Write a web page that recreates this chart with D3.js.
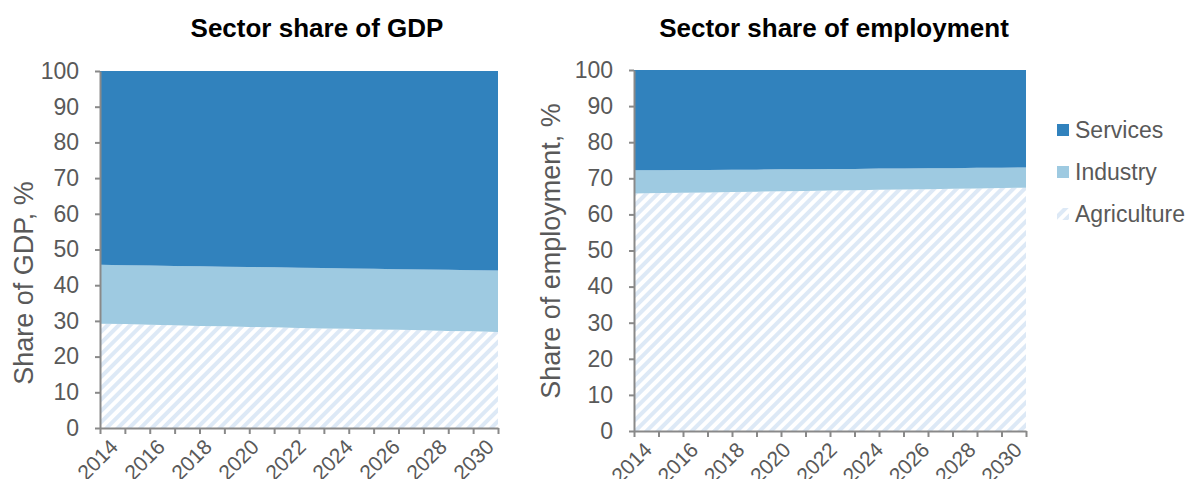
<!DOCTYPE html>
<html>
<head>
<meta charset="utf-8">
<script src="https://cdn.jsdelivr.net/npm/d3@7"></script>
<style>
  html, body { margin: 0; padding: 0; background: #fff; }
  svg { display: block; font-family: "Liberation Sans", Arial, sans-serif; }
</style>
</head>
<body>
<svg id="chart" width="1189" height="479"></svg>
<script>
// Projection years
const years = [2014, 2015, 2016, 2017, 2018, 2019, 2020, 2021, 2022, 2023, 2024, 2025, 2026, 2027, 2028, 2029, 2030];
const yearLabels = [2014, 2016, 2018, 2020, 2022, 2024, 2026, 2028, 2030];
const yTicks = [0, 10, 20, 30, 40, 50, 60, 70, 80, 90, 100];
const sectors = ["Agriculture", "Industry", "Services"];

// Share of GDP, %
const gdpAgriculture = [29.2, 29.1, 28.9, 28.8, 28.6, 28.5, 28.3, 28.2, 28.0, 27.9, 27.8, 27.6, 27.5, 27.4, 27.2, 27.1, 26.9];
const gdpIndustry    = [16.5, 16.5, 16.6, 16.6, 16.7, 16.7, 16.8, 16.8, 16.9, 16.9, 16.9, 17.0, 17.0, 17.0, 17.1, 17.1, 17.2];
const gdpServices    = [54.3, 54.4, 54.5, 54.6, 54.7, 54.8, 54.9, 55.0, 55.1, 55.2, 55.3, 55.4, 55.5, 55.6, 55.7, 55.8, 55.9];

// Share of employment, %
const empAgriculture = [65.8, 65.9, 66.0, 66.1, 66.2, 66.3, 66.4, 66.5, 66.6, 66.7, 66.8, 66.9, 67.0, 67.1, 67.2, 67.3, 67.4];
const empIndustry    = [6.4, 6.3, 6.3, 6.2, 6.2, 6.1, 6.1, 6.0, 6.0, 5.9, 5.9, 5.8, 5.8, 5.7, 5.7, 5.6, 5.6];
const empServices    = [27.8, 27.8, 27.7, 27.7, 27.6, 27.6, 27.5, 27.5, 27.4, 27.4, 27.3, 27.3, 27.2, 27.2, 27.1, 27.1, 27.0];

const svg = d3.select("#chart");
const axisGray = "#898989";
const textGray = "#595959";
const colors = { Services: "#3182bd", Industry: "#9ecae1", Agriculture: "url(#hatch)" };

// diagonal hatch used for agriculture
const defs = svg.append("defs");
const pat = defs.append("pattern")
  .attr("id", "hatch")
  .attr("patternUnits", "userSpaceOnUse")
  .attr("width", 8).attr("height", 8)
  .attr("patternTransform", "rotate(45)");
pat.append("rect").attr("width", 8).attr("height", 8).attr("fill", "#ffffff");
pat.append("rect").attr("width", 4).attr("height", 8).attr("fill", "#dde9f6");

function rowsFrom(agri, ind, serv) {
  return years.map((y, i) => ({ year: y, Agriculture: agri[i], Industry: ind[i], Services: serv[i] }));
}

function drawPanel(opts) {
  const { left, right, top, bottom, title, titleX, yTitle, yTitleX, yTitleY, rows } = opts;
  const x = d3.scaleLinear().domain([2014, 2030]).range([left, right]);
  const y = d3.scaleLinear().domain([0, 100]).range([bottom, top]);
  // rotated year labels sit on a slightly narrower span than the ticks
  const xl = d3.scaleLinear().domain([2014, 2030]).range([left + 14, right - 8]);

  const g = svg.append("g");
  const stack = d3.stack().keys(sectors);
  const series = stack(rows);
  const area = d3.area()
    .x(d => x(d.data.year))
    .y0(d => y(d[0]))
    .y1(d => y(d[1]));

  g.selectAll("path.layer")
    .data(series)
    .join("path")
    .attr("class", "layer")
    .attr("d", area)
    .attr("fill", d => colors[d.key]);

  // y axis
  const yAxis = d3.axisLeft(y).tickValues(yTicks).tickSize(5).tickSizeOuter(0).tickPadding(16);
  const ya = g.append("g").attr("transform", `translate(${left},0)`).call(yAxis);
  ya.select(".domain").attr("stroke", axisGray).attr("stroke-width", 2);
  ya.selectAll(".tick line").attr("stroke", axisGray).attr("stroke-width", 2);
  ya.selectAll(".tick text").attr("fill", textGray).attr("font-size", 23)
    .attr("font-family", "Liberation Sans, Arial, sans-serif");

  // x axis: a tick each year, labels every other year
  const xAxis = d3.axisBottom(x).tickValues(years).tickSize(6).tickSizeOuter(0).tickFormat("");
  const xa = g.append("g").attr("transform", `translate(0,${bottom})`).call(xAxis);
  xa.select(".domain").attr("stroke", axisGray).attr("stroke-width", 2);
  xa.selectAll(".tick line").attr("stroke", axisGray).attr("stroke-width", 2);

  g.append("g").selectAll("text")
    .data(yearLabels)
    .join("text")
    .attr("transform", d => `translate(${xl(d)},${bottom + 15}) rotate(-45)`)
    .attr("text-anchor", "end")
    .attr("dy", "0.35em")
    .attr("fill", textGray)
    .attr("font-size", 21)
    .text(d => d);

  // titles
  g.append("text")
    .attr("x", titleX).attr("y", 37)
    .attr("text-anchor", "middle")
    .attr("font-weight", "bold")
    .attr("font-size", 26)
    .attr("fill", "#000")
    .text(title);

  g.append("text")
    .attr("transform", `translate(${yTitleX},${yTitleY}) rotate(-90)`)
    .attr("text-anchor", "middle")
    .attr("fill", textGray)
    .attr("font-size", 27)
    .text(yTitle);
}

drawPanel({
  left: 100, right: 498, top: 71, bottom: 428,
  title: "Sector share of GDP", titleX: 317,
  yTitle: "Share of GDP, %", yTitleX: 33, yTitleY: 283,
  rows: rowsFrom(gdpAgriculture, gdpIndustry, gdpServices)
});

drawPanel({
  left: 634, right: 1026, top: 70, bottom: 431,
  title: "Sector share of employment", titleX: 834,
  yTitle: "Share of employment, %", yTitleX: 560, yTitleY: 251,
  rows: rowsFrom(empAgriculture, empIndustry, empServices)
});

// legend
const legendOrder = ["Services", "Industry", "Agriculture"];
const lg = svg.append("g").attr("transform", "translate(1057,0)");
const item = lg.selectAll("g")
  .data(legendOrder)
  .join("g")
  .attr("transform", (d, i) => `translate(0,${130 + i * 42})`);
item.append("rect")
  .attr("x", 0).attr("y", -6).attr("width", 12).attr("height", 12)
  .attr("fill", d => colors[d]);
item.append("text")
  .attr("x", 18).attr("dy", "0.35em")
  .attr("fill", textGray)
  .attr("font-size", 23)
  .text(d => d);
</script>
</body>
</html>
